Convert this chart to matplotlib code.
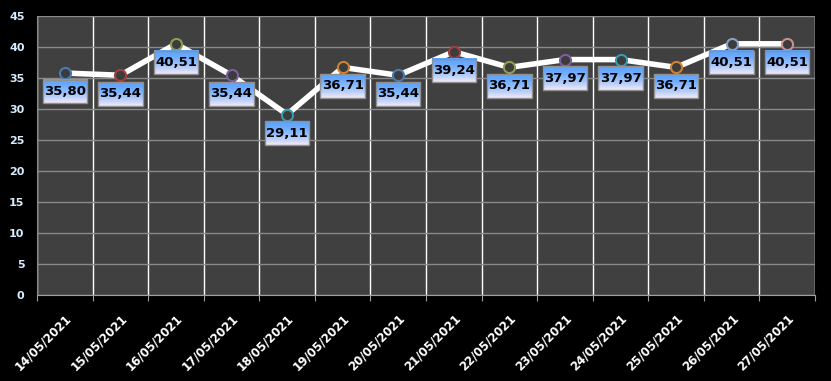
import numpy as np
import matplotlib
matplotlib.use("Agg")
import matplotlib.pyplot as plt
from matplotlib.patches import Rectangle

dates = ["14/05/2021", "15/05/2021", "16/05/2021", "17/05/2021",
         "18/05/2021", "19/05/2021", "20/05/2021", "21/05/2021",
         "22/05/2021", "23/05/2021", "24/05/2021", "25/05/2021",
         "26/05/2021", "27/05/2021"]
values = [35.80, 35.44, 40.51, 35.44, 29.11, 36.71, 35.44, 39.24,
          36.71, 37.97, 37.97, 36.71, 40.51, 40.51]
marker_edges = ["#4a7ab0", "#a04040", "#8aa050", "#7a609a", "#3a9ab0",
                "#d08030", "#4a7ab0", "#a04040", "#8aa050", "#7a609a",
                "#3a9ab0", "#d08030", "#8aa0c8", "#c89090"]
yticks = list(range(0, 50, 5))

fig = plt.figure(figsize=(8.31, 3.81), dpi=100, facecolor="black")
ax = fig.add_axes([37 / 831, 1 - 295 / 381, 778 / 831, 279 / 381])
ax.set_facecolor("#404040")

x = np.arange(len(dates))

# grid: white verticals at category boundaries, gray horizontals
ax.set_xticks(np.arange(-0.5, len(dates)), minor=False)
ax.set_xticklabels([])
ax.set_xticks(x, minor=True)
ax.set_xticklabels(dates, minor=True, rotation=45, ha="right",
                   rotation_mode="anchor", color="white",
                   fontweight="bold", fontsize=8.5)
ax.tick_params(axis="x", which="major", length=4, color="#a0a0a0")
ax.tick_params(axis="x", which="minor", length=0, pad=12)
ax.grid(axis="x", which="major", color="white", linewidth=1)
ax.set_yticks(yticks)
ax.set_yticklabels([str(v) for v in yticks], color="#d8ecff",
                   fontweight="bold", fontsize=8)
ax.tick_params(axis="y", length=0, pad=9)
ax.grid(axis="y", color="#8a8a8a", linewidth=1)
ax.set_axisbelow(True)
for side in ["top", "right"]:
    ax.spines[side].set_visible(False)
ax.spines["left"].set_color("#8a8a8a")
ax.spines["bottom"].set_color("#a0a0a0")

ax.plot(x, values, color="white", linewidth=4, zorder=3,
        solid_capstyle="round")
for xi, yi, ec in zip(x, values, marker_edges):
    ax.plot(xi, yi, marker="o", markersize=8, markerfacecolor="#3c3c3c",
            markeredgecolor=ec, markeredgewidth=1.5, zorder=4)

# gradient label boxes (blue on top fading to pale pink)
grad = np.linspace(0, 1, 64) ** 1.6
top_c = np.array([0.36, 0.64, 1.0])
bot_c = np.array([0.96, 0.92, 0.97])
img = top_c[None, None, :] * (1 - grad[:, None, None]) \
    + bot_c[None, None, :] * grad[:, None, None]
bw, bh = 0.8, 3.8
for xi, yi in zip(x, values):
    y1 = yi - 1.1
    y0 = y1 - bh
    ax.imshow(img, extent=[xi - bw / 2, xi + bw / 2, y0, y1],
              aspect="auto", zorder=5, origin="upper",
              interpolation="bilinear")
    ax.add_patch(Rectangle((xi - bw / 2, y0), bw, bh, fill=False,
                           edgecolor="#909090", linewidth=1, zorder=6))
    ax.text(xi, (y0 + y1) / 2, f"{yi:.2f}".replace(".", ","),
            ha="center", va="center", fontsize=9.5, fontweight="bold",
            color="black", zorder=7)

ax.set_xlim(-0.5, len(dates) - 0.5)
ax.set_ylim(0, 45)

plt.savefig("out.png", facecolor="black")
plt.close()
